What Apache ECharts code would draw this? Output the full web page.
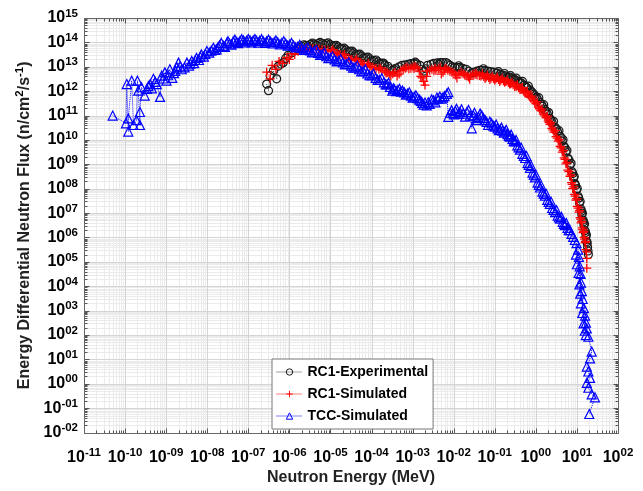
<!DOCTYPE html>
<html>
<head>
<meta charset="utf-8">
<script src="https://cdn.jsdelivr.net/npm/echarts@6/dist/echarts.min.js"></script>
<style>
  html, body { margin: 0; background: #fff; }
  #chart { width: 643px; height: 491px; }
</style>
</head>
<body>
<div id="chart"></div>
<script>
// axis ranges (decades)
const X_MIN = 1e-11, X_MAX = 1e2;
const Y_MIN = 1e-2, Y_MAX = 1e15;

const seriesNames = ['RC1-Experimental', 'RC1-Simulated', 'TCC-Simulated'];

// [energy MeV, flux]
const rc1Experimental = [
  [2.8e-7, 1.95e12], [3.1e-7, 1.05e12], [3.4e-7, 4.3e12], [4.1e-7, 6.8e12], [4.9e-7, 3.2e12], [5.4e-7, 1.07e13], [6.2e-7, 1.3e13], [7.1e-7, 1.48e13], [8.1e-7, 2.2e13], [9.3e-7, 2.95e13],
  [1.15e-6, 3.8e13], [1.38e-6, 4.7e13], [1.66e-6, 5.6e13], [2.0e-6, 6.8e13], [2.25e-6, 8.0e13], [2.5e-6, 7.6e13], [2.8e-6, 7.0e13], [3.2e-6, 8.1e13], [3.6e-6, 9.3e13], [4.0e-6, 8.5e13],
  [4.5e-6, 7.8e13], [5.0e-6, 8.9e13], [5.6e-6, 1.0e14], [6.3e-6, 8.9e13], [7.0e-6, 8.0e13], [7.8e-6, 8.9e13], [8.8e-6, 9.5e13], [9.8e-6, 8.1e13], [1.1e-5, 7.2e13], [1.23e-5, 7.4e13],
  [1.38e-5, 7.6e13], [1.55e-5, 6.5e13], [1.72e-5, 5.6e13], [1.9e-5, 5.6e13], [2.15e-5, 5.8e13], [2.4e-5, 4.9e13], [2.7e-5, 4.2e13], [3.0e-5, 4.3e13], [3.35e-5, 4.4e13], [3.7e-5, 3.7e13],
  [4.2e-5, 3.2e13], [4.7e-5, 3.2e13], [5.2e-5, 3.3e13], [5.8e-5, 2.75e13], [6.5e-5, 2.35e13], [7.2e-5, 2.4e13], [8.1e-5, 2.5e13], [9.1e-5, 2.1e13], [1.02e-4, 1.8e13], [1.15e-4, 1.82e13],
  [1.29e-4, 1.9e13], [1.45e-4, 1.58e13], [1.6e-4, 1.35e13], [1.78e-4, 1.38e13], [1.95e-4, 1.42e13], [2.1e-4, 1.2e13], [2.5e-4, 1.05e13], [2.8e-4, 8.3e12], [3.2e-4, 7.2e12], [3.5e-4, 7.9e12],
  [3.9e-4, 8.7e12], [4.7e-4, 1.0e13], [5.5e-4, 1.15e13], [6.6e-4, 1.2e13], [7.8e-4, 1.26e13], [9.1e-4, 1.35e13], [1.07e-3, 1.38e13], [1.16e-3, 1.55e13], [1.26e-3, 1.32e13], [1.51e-3, 1.15e13],
  [1.7e-3, 7.9e12], [1.9e-3, 6.6e12], [2.1e-3, 8.3e12], [2.3e-3, 1.15e13], [2.8e-3, 1.26e13], [3.3e-3, 1.38e13], [4.0e-3, 1.45e13], [4.35e-3, 1.25e13], [4.7e-3, 1.5e13], [5.5e-3, 1.48e13],
  [6.5e-3, 1.5e13], [7.2e-3, 1.32e13], [8.1e-3, 1.15e13], [9.3e-3, 1.0e13], [1.07e-2, 9.5e12], [1.23e-2, 9.5e12], [1.32e-2, 1.1e13], [1.41e-2, 9.5e12], [1.66e-2, 8.7e12], [2.0e-2, 7.9e12],
  [2.3e-2, 6.6e12], [2.75e-2, 5.5e12], [3.2e-2, 6.0e12], [3.7e-2, 6.6e12], [4.3e-2, 7.1e12], [4.9e-2, 7.2e12], [5.3e-2, 8.3e12], [5.8e-2, 6.9e12], [6.8e-2, 6.6e12], [7.9e-2, 6.3e12],
  [9.5e-2, 6.0e12], [0.112, 5.5e12], [0.123, 6.3e12], [0.135, 5.0e12], [0.146, 4.4e12], [0.158, 4.6e12], [0.172, 5.3e12], [0.186, 4.2e12], [0.205, 3.7e12], [0.224, 3.8e12],
  [0.243, 4.3e12], [0.263, 3.5e12], [0.285, 3.1e12], [0.31, 3.0e12], [0.335, 3.4e12], [0.363, 2.6e12], [0.4, 2.3e12], [0.437, 2.2e12], [0.475, 2.5e12], [0.513, 1.78e12],
  [0.555, 1.55e12], [0.6, 1.41e12], [0.66, 1.6e12], [0.72, 1.12e12], [0.78, 9.5e11], [0.83, 8.5e11], [0.89, 7.5e11], [0.95, 6.5e11], [1.02, 5.6e11], [1.1, 4.7e11],
  [1.18, 5.4e11], [1.26, 3.4e11], [1.35, 2.9e11], [1.45, 2.4e11], [1.55, 2.8e11], [1.66, 1.74e11], [1.78, 1.5e11], [1.9, 1.15e11], [2.05, 1.32e11], [2.2, 7.6e10],
  [2.35, 6.5e10], [2.5, 5.0e10], [2.7, 5.8e10], [2.95, 3.3e10], [3.15, 2.8e10], [3.4, 2.1e10], [3.65, 2.4e10], [3.9, 1.41e10], [4.15, 1.2e10], [4.4, 8.9e9],
  [4.6, 1.02e10], [4.8, 5.6e9], [5.1, 4.8e9], [5.4, 3.2e9], [5.7, 3.7e9], [6.0, 1.82e9], [6.4, 1.55e9], [6.8, 9.5e8], [7.2, 1.1e9], [7.6, 5.0e8],
  [7.9, 4.2e8], [8.3, 2.8e8], [8.6, 3.2e8], [8.9, 1.62e8], [9.3, 1.38e8], [9.8, 8.9e7], [10.2, 1.02e8], [10.7, 4.9e7], [11.1, 4.1e7], [11.5, 2.6e7],
  [12.0, 3.0e7], [12.6, 1.45e7], [12.9, 1.2e7], [13.2, 8.7e6], [13.6, 1.0e7], [14.1, 5.2e6], [14.4, 4.4e6], [14.8, 3.2e6], [15.3, 3.7e6], [15.8, 1.9e6],
  [16.2, 1.6e6], [16.6, 1.12e6], [17.0, 1.3e6], [17.4, 6.8e5], [17.8, 5.8e5], [18.2, 4.0e5], [18.6, 2.8e5], [19.0, 2.0e5]
];

const rc1Simulated = [
  [2.8e-7, 6.0e12], [3.4e-7, 3.2e12], [3.8e-7, 1.15e13], [4.7e-7, 7.9e12], [5.6e-7, 1.66e13], [6.9e-7, 1.38e13], [8.7e-7, 2.4e13], [1.0e-6, 2.0e13], [1.15e-6, 3.5e13], [1.35e-6, 3.2e13],
  [1.62e-6, 4.3e13], [1.95e-6, 4.6e13], [2.3e-6, 5.1e13], [2.7e-6, 5.0e13], [3.2e-6, 5.6e13], [3.7e-6, 5.5e13], [4.5e-6, 5.6e13], [5.2e-6, 5.4e13], [6.2e-6, 5.1e13], [7.4e-6, 4.9e13],
  [8.7e-6, 4.7e13], [1.05e-5, 4.3e13], [1.14e-5, 5.0e13], [1.23e-5, 3.9e13], [1.45e-5, 3.5e13], [1.57e-5, 3.0e13], [1.7e-5, 3.2e13], [2.0e-5, 2.8e13], [2.2e-5, 3.2e13], [2.4e-5, 2.4e13],
  [2.8e-5, 2.2e13], [3.05e-5, 1.85e13], [3.3e-5, 2.0e13], [4.0e-5, 1.82e13], [4.35e-5, 2.1e13], [4.7e-5, 1.66e13], [5.5e-5, 1.45e13], [6.0e-5, 1.25e13], [6.6e-5, 1.26e13], [7.8e-5, 1.15e13],
  [8.4e-5, 1.32e13], [9.1e-5, 1.05e13], [1.07e-4, 9.5e12], [1.18e-4, 8.1e12], [1.29e-4, 8.7e12], [1.51e-4, 7.9e12], [1.64e-4, 9.0e12], [1.78e-4, 7.2e12], [2.1e-4, 6.6e12], [2.25e-4, 5.6e12],
  [2.4e-4, 6.0e12], [2.7e-4, 5.0e12], [2.95e-4, 4.2e12], [3.3e-4, 5.2e12], [3.7e-4, 6.0e12], [4.2e-4, 4.2e12], [4.7e-4, 5.0e12], [5.2e-4, 6.9e12], [5.9e-4, 7.9e12], [6.6e-4, 8.7e12],
  [7.2e-4, 9.5e12], [8.1e-4, 8.3e12], [9.1e-4, 8.7e12], [1.02e-3, 1.0e13], [1.08e-3, 8.5e12], [1.15e-3, 1.05e13], [1.29e-3, 9.1e12], [1.45e-3, 6.6e12], [1.58e-3, 4.0e12], [1.7e-3, 3.5e12],
  [1.86e-3, 2.5e12], [2.0e-3, 1.78e12], [2.2e-3, 4.0e12], [2.3e-3, 6.6e12], [2.6e-3, 7.2e12], [2.95e-3, 7.9e12], [3.3e-3, 6.9e12], [3.5e-3, 8.7e12], [3.7e-3, 7.2e12], [4.2e-3, 8.3e12],
  [4.7e-3, 9.5e12], [5.0e-3, 5.0e12], [5.5e-3, 6.0e12], [6.0e-3, 7.9e12], [6.5e-3, 8.7e12], [7.2e-3, 7.2e12], [8.1e-3, 6.6e12], [9.1e-3, 6.0e12], [1.02e-2, 5.5e12], [1.12e-2, 4.6e12],
  [1.2e-2, 3.5e12], [1.35e-2, 5.0e12], [1.51e-2, 6.0e12], [1.7e-2, 5.2e12], [1.86e-2, 4.6e12], [2.1e-2, 4.2e12], [2.3e-2, 3.8e12], [2.45e-2, 3.1e12], [2.6e-2, 4.4e12], [2.95e-2, 5.0e12],
  [3.3e-2, 4.8e12], [3.5e-2, 5.6e12], [3.7e-2, 4.6e12], [4.2e-2, 4.4e12], [4.6e-2, 4.2e12], [5.0e-2, 5.0e12], [5.4e-2, 4.0e12], [5.8e-2, 3.3e12], [6.2e-2, 3.8e12], [6.6e-2, 4.5e12],
  [7.1e-2, 3.6e12], [7.6e-2, 3.0e12], [8.1e-2, 3.5e12], [8.7e-2, 4.2e12], [9.3e-2, 3.3e12], [0.1, 2.8e12], [0.107, 3.2e12], [0.115, 3.8e12], [0.123, 3.0e12], [0.132, 2.5e12],
  [0.141, 2.9e12], [0.151, 3.4e12], [0.162, 2.7e12], [0.174, 2.3e12], [0.186, 2.5e12], [0.2, 2.95e12], [0.214, 2.3e12], [0.23, 1.95e12], [0.245, 2.0e12], [0.262, 2.35e12],
  [0.28, 1.82e12], [0.305, 1.55e12], [0.33, 1.58e12], [0.355, 1.85e12], [0.38, 1.38e12], [0.41, 1.17e12], [0.437, 1.2e12], [0.47, 1.4e12], [0.5, 1.02e12], [0.54, 8.7e11],
  [0.575, 8.5e11], [0.62, 1.0e12], [0.66, 6.9e11], [0.71, 5.9e11], [0.76, 5.4e11], [0.81, 6.3e11], [0.87, 4.2e11], [0.93, 3.6e11], [1.0, 3.1e11], [1.07, 3.6e11],
  [1.15, 2.2e11], [1.23, 1.9e11], [1.32, 1.58e11], [1.41, 1.85e11], [1.51, 1.15e11], [1.65, 9.8e10], [1.78, 8.3e10], [1.9, 9.5e10], [2.0, 6.0e10], [2.1, 5.2e10],
  [2.2, 4.4e10], [2.32, 5.0e10], [2.45, 3.0e10], [2.6, 2.6e10], [2.75, 2.1e10], [2.92, 2.4e10], [3.1, 1.38e10], [3.3, 1.2e10], [3.5, 8.9e9], [3.7, 1.02e10],
  [3.9, 5.4e9], [4.15, 4.7e9], [4.4, 3.2e9], [4.65, 3.7e9], [4.9, 1.86e9], [5.15, 1.6e9], [5.4, 1.05e9], [5.7, 1.2e9], [6.0, 5.8e8], [6.4, 5.0e8],
  [6.8, 3.2e8], [7.1, 3.7e8], [7.4, 1.78e8], [7.65, 1.5e8], [7.9, 1.02e8], [8.3, 1.18e8], [8.7, 5.9e7], [9.1, 5.0e7], [9.5, 3.4e7], [9.85, 3.9e7],
  [10.2, 1.9e7], [10.7, 1.6e7], [11.2, 1.1e7], [11.6, 1.25e7], [12.0, 6.6e6], [12.3, 5.7e6], [12.6, 4.0e6], [13.0, 4.6e6], [13.5, 2.5e6], [13.8, 2.1e6],
  [14.1, 1.58e6], [14.6, 1.8e6], [15.1, 1.0e6], [15.4, 8.5e5], [15.8, 6.2e5], [16.2, 7.0e5], [16.6, 3.2e5], [17.0, 2.6e5], [17.4, 1.4e5], [17.4, 5.5e4]
];

const tccSimulated = [
  [5.0e-11, 1.0e11], [1.05e-10, 4.8e10], [1.1e-10, 1.95e12], [1.2e-10, 2.2e10], [1.2e-10, 7.6e10], [1.45e-10, 2.7e12], [1.6e-10, 4.1e10], [1.9e-10, 6.5e10], [2.0e-10, 2.7e12], [2.1e-10, 1.05e12],
  [2.3e-10, 4.1e10], [2.3e-10, 1.4e11], [2.5e-10, 1.45e12], [3.0e-10, 6.6e11], [3.4e-10, 1.23e12], [3.7e-10, 1.6e12], [4.1e-10, 1.95e12], [4.5e-10, 1.3e12], [4.9e-10, 3.2e12], [5.4e-10, 2.4e12],
  [5.9e-10, 1.95e12], [7.1e-10, 5.8e11], [7.8e-10, 4.3e12], [8.5e-10, 3.3e12], [9.3e-10, 5.9e12], [1.02e-9, 2.7e12], [1.12e-9, 4.5e12], [1.23e-9, 7.9e12], [1.41e-9, 3.5e12], [1.55e-9, 5.5e12],
  [1.66e-9, 6.8e12], [1.82e-9, 9.5e12], [2.0e-9, 1.48e13], [2.2e-9, 1.05e13], [2.4e-9, 7.9e12], [2.8e-9, 9.5e12], [3.2e-9, 1.48e13], [3.6e-9, 1.12e13], [3.9e-9, 1.35e13], [4.2e-9, 1.74e13],
  [4.8e-9, 1.41e13], [5.1e-9, 1.9e13], [5.5e-9, 2.3e13], [6.3e-9, 1.9e13], [6.8e-9, 2.6e13], [7.2e-9, 3.2e13], [8.3e-9, 2.6e13], [9.0e-9, 3.4e13], [9.8e-9, 4.4e13], [1.12e-8, 3.8e13],
  [1.26e-8, 4.6e13], [1.41e-8, 6.0e13], [1.55e-8, 4.9e13], [1.7e-8, 5.2e13], [1.85e-8, 6.5e13], [2.0e-8, 7.6e13], [2.2e-8, 9.5e13], [2.5e-8, 7.2e13], [2.7e-8, 6.6e13], [3.0e-8, 9.5e13],
  [3.2e-8, 1.12e14], [3.5e-8, 8.9e13], [3.9e-8, 8.1e13], [4.3e-8, 1.1e14], [4.7e-8, 1.3e14], [5.2e-8, 1.05e14], [5.7e-8, 9.3e13], [6.3e-8, 1.15e14], [6.9e-8, 1.35e14], [7.6e-8, 1.2e14],
  [8.3e-8, 1.0e14], [9.1e-8, 1.17e14], [1.0e-7, 1.38e14], [1.1e-7, 1.2e14], [1.2e-7, 1.0e14], [1.32e-7, 1.2e14], [1.45e-7, 1.38e14], [1.58e-7, 1.17e14], [1.74e-7, 9.8e13], [1.9e-7, 1.15e14],
  [2.1e-7, 1.35e14], [2.3e-7, 1.12e14], [2.55e-7, 9.5e13], [2.8e-7, 1.1e14], [3.1e-7, 1.3e14], [3.5e-7, 1.07e14], [3.9e-7, 9.0e13], [4.3e-7, 1.02e14], [4.7e-7, 1.2e14], [5.2e-7, 1.0e14],
  [5.9e-7, 8.3e13], [6.6e-7, 9.5e13], [7.3e-7, 1.12e14], [8.1e-7, 8.9e13], [9.1e-7, 7.4e13], [1.02e-6, 8.1e13], [1.13e-6, 9.5e13], [1.26e-6, 7.4e13], [1.41e-6, 6.2e13], [1.58e-6, 6.6e13],
  [1.78e-6, 7.9e13], [2.0e-6, 5.9e13], [2.24e-6, 4.9e13], [2.5e-6, 5.2e13], [2.8e-6, 6.2e13], [3.2e-6, 4.7e13], [3.55e-6, 3.9e13], [4.0e-6, 4.2e13], [4.5e-6, 5.0e13], [5.0e-6, 3.7e13],
  [5.6e-6, 3.1e13], [6.3e-6, 3.2e13], [7.1e-6, 3.8e13], [7.9e-6, 2.7e13], [8.9e-6, 2.25e13], [1.0e-5, 2.3e13], [1.12e-5, 2.7e13], [1.26e-5, 2.0e13], [1.41e-5, 1.66e13], [1.58e-5, 1.74e13],
  [1.78e-5, 2.05e13], [2.0e-5, 1.5e13], [2.24e-5, 1.25e13], [2.5e-5, 1.3e13], [2.8e-5, 1.55e13], [3.2e-5, 1.12e13], [3.55e-5, 9.3e12], [4.0e-5, 9.5e12], [4.5e-5, 1.12e13], [5.0e-5, 7.9e12],
  [5.6e-5, 6.5e12], [6.3e-5, 6.6e12], [7.1e-5, 7.8e12], [7.9e-5, 5.4e12], [8.9e-5, 4.5e12], [1.0e-4, 4.4e12], [1.12e-4, 5.2e12], [1.26e-4, 3.5e12], [1.41e-4, 2.9e12], [1.58e-4, 2.9e12],
  [1.78e-4, 3.4e12], [2.0e-4, 2.3e12], [2.2e-4, 1.9e12], [2.4e-4, 1.9e12], [2.6e-4, 2.2e12], [2.8e-4, 1.5e12], [3.2e-4, 1.05e12], [3.4e-4, 1.3e12], [3.6e-4, 1.2e12], [4.0e-4, 1.0e12],
  [4.4e-4, 1.12e12], [4.8e-4, 1.25e12], [5.2e-4, 9.5e11], [5.7e-4, 1.05e12], [6.3e-4, 8.9e11], [6.9e-4, 7.2e11], [7.6e-4, 7.9e11], [8.3e-4, 9.0e11], [9.1e-4, 6.6e11], [1.0e-3, 5.4e11],
  [1.1e-3, 6.0e11], [1.2e-3, 6.8e11], [1.32e-3, 5.2e11], [1.45e-3, 4.5e11], [1.58e-3, 4.0e11], [1.72e-3, 3.3e11], [1.86e-3, 2.8e11], [2.0e-3, 3.4e11], [2.2e-3, 2.6e11], [2.4e-3, 3.5e11],
  [2.6e-3, 3.0e11], [2.9e-3, 4.6e11], [3.2e-3, 4.2e11], [3.6e-3, 3.5e11], [3.9e-3, 5.5e11], [4.2e-3, 4.9e11], [4.6e-3, 6.0e11], [5.1e-3, 4.9e11], [5.5e-3, 5.6e11], [6.0e-3, 6.3e11],
  [6.8e-3, 7.8e11], [7.4e-3, 9.1e11], [7.4e-3, 8.9e10], [8.2e-3, 1.3e11], [8.9e-3, 1.66e11], [9.5e-3, 1.25e11], [1.02e-2, 1.12e11], [1.1e-2, 1.55e11], [1.17e-2, 1.9e11], [1.3e-2, 1.2e11],
  [1.41e-2, 1.4e11], [1.55e-2, 1.8e11], [1.7e-2, 1.2e11], [1.9e-2, 9.0e10], [2.1e-2, 1.4e11], [2.3e-2, 1.7e11], [2.5e-2, 1.0e11], [2.75e-2, 3.0e10], [3.0e-2, 1.02e11], [3.2e-2, 1.3e11],
  [3.5e-2, 7.9e10], [3.7e-2, 6.5e10], [4.0e-2, 8.9e10], [4.4e-2, 1.2e11], [4.8e-2, 1.02e11], [5.3e-2, 7.8e10], [5.8e-2, 6.5e10], [6.3e-2, 5.5e10], [6.9e-2, 4.1e10], [7.6e-2, 5.6e10],
  [8.3e-2, 4.8e10], [9.1e-2, 3.9e10], [0.1, 3.5e10], [0.108, 4.3e10], [0.117, 3.0e10], [0.126, 2.5e10], [0.135, 2.6e10], [0.145, 3.2e10], [0.155, 2.4e10], [0.166, 2.0e10],
  [0.178, 2.2e10], [0.19, 2.6e10], [0.204, 1.74e10], [0.22, 1.45e10], [0.234, 1.38e10], [0.25, 1.65e10], [0.27, 1.1e10], [0.29, 9.0e9], [0.31, 8.7e9], [0.33, 1.0e10],
  [0.355, 6.0e9], [0.38, 5.0e9], [0.41, 4.0e9], [0.44, 4.8e9], [0.47, 2.7e9], [0.51, 2.2e9], [0.55, 1.82e9], [0.59, 2.2e9], [0.63, 1.15e9], [0.67, 9.5e8],
  [0.72, 7.2e8], [0.77, 8.7e8], [0.83, 4.6e8], [0.89, 3.8e8], [0.95, 2.9e8], [1.02, 3.5e8], [1.1, 1.78e8], [1.18, 1.45e8], [1.26, 1.12e8], [1.35, 1.35e8],
  [1.45, 7.6e7], [1.55, 6.3e7], [1.66, 5.2e7], [1.78, 6.2e7], [1.9, 3.5e7], [2.05, 2.9e7], [2.2, 2.4e7], [2.35, 2.9e7], [2.5, 1.62e7], [2.7, 1.35e7],
  [2.95, 1.1e7], [3.2, 1.3e7], [3.4, 7.9e6], [3.65, 6.6e6], [3.9, 5.9e6], [4.2, 7.0e6], [4.5, 4.4e6], [4.8, 3.6e6], [5.1, 3.2e6], [5.5, 3.9e6],
  [5.9, 2.5e6], [6.3, 2.0e6], [6.8, 2.0e6], [7.4, 1.4e6], [8.1, 1.07e6], [8.9, 7.9e5], [9.5, 2.0e5], [9.8, 5.9e5], [10.0, 8.0e4], [10.7, 3.2e5],
  [11.0, 3.5e4], [11.2, 1.6e5], [11.5, 1.2e4], [11.7, 6.6e4], [12.0, 5.0e3], [12.3, 3.2e4], [12.5, 2.0e3], [12.6, 1.4e4], [13.2, 6.3e3], [13.5, 800],
  [13.8, 3.0e3], [14.5, 300], [14.8, 1.26e3], [15.5, 150], [15.8, 630], [16.5, 100], [16.6, 320], [17.4, 186], [19.0, 85], [22.9, 21],
  [20.9, 11], [17.4, 5.1], [19.0, 3.2], [20.9, 1.74], [17.4, 1.1], [19.0, 0.69], [22.9, 0.37], [27.5, 0.28], [20.0, 0.058]
];

const FONT = '"Liberation Sans", Arial, Helvetica, sans-serif';
const PLUS = 'path://M0,4.3H10V5.7H0Z M4.3,0H5.7V10H4.3Z';

// "10^-05" style exponent
function expText(v) {
  const e = Math.round(Math.log10(v));
  const a = Math.abs(e);
  return (e < 0 ? '-' : '') + (a < 10 ? '0' + a : '' + a);
}

const supRich = {
  sup: { fontFamily: FONT, fontWeight: 'bold', fontSize: 11.5, color: '#000', padding: [0, 0, 9, 0] }
};

// grid lines + ticks like a matlab loglog box
function renderFrame(params, api) {
  const kids = [];
  const seg = (x1, y1, x2, y2, color) => kids.push({
    type: 'line',
    shape: { x1: x1, y1: y1, x2: x2, y2: y2 },
    style: { stroke: color, lineWidth: 1 }
  });
  const px = (v) => Math.round(api.coord([v, Y_MIN])[0]) + 0.5;
  const py = (v) => Math.round(api.coord([X_MIN, v])[1]) + 0.5;
  const L = px(X_MIN), R = px(X_MAX), T = py(Y_MAX), B = py(Y_MIN);
  const x0 = Math.round(Math.log10(X_MIN)), x1 = Math.round(Math.log10(X_MAX));
  const y0 = Math.round(Math.log10(Y_MIN)), y1 = Math.round(Math.log10(Y_MAX));

  // minor grid
  for (let d = x0; d < x1; d++) {
    for (let m = 2; m < 10; m++) {
      const x = px(m * Math.pow(10, d));
      seg(x, T, x, B, '#ebebeb');
    }
  }
  for (let d = y0; d < y1; d++) {
    for (let m = 2; m < 10; m++) {
      const y = py(m * Math.pow(10, d));
      seg(L, y, R, y, '#ebebeb');
    }
  }
  // major grid
  for (let d = x0 + 1; d < x1; d++) { const x = px(Math.pow(10, d)); seg(x, T, x, B, '#d4d4d4'); }
  for (let d = y0 + 1; d < y1; d++) { const y = py(Math.pow(10, d)); seg(L, y, R, y, '#d4d4d4'); }

  // ticks on all four sides
  const tick = '#555';
  for (let d = x0; d <= x1; d++) {
    for (let m = 1; m < 10; m++) {
      if (d === x1 && m > 1) break;
      const x = px(m * Math.pow(10, d));
      const len = m === 1 ? 5 : 3;
      seg(x, B, x, B - len, tick);
      seg(x, T, x, T + len, tick);
    }
  }
  for (let d = y0; d <= y1; d++) {
    for (let m = 1; m < 10; m++) {
      if (d === y1 && m > 1) break;
      const y = py(m * Math.pow(10, d));
      const len = m === 1 ? 5 : 3;
      seg(L, y, L + len, y, tick);
      seg(R, y, R - len, y, tick);
    }
  }
  // box
  kids.push({
    type: 'rect',
    shape: { x: L, y: T, width: R - L, height: B - T },
    style: { fill: 'none', stroke: '#666', lineWidth: 1 }
  });
  return { type: 'group', children: kids };
}

const tickLabel = {
  fontFamily: FONT, fontWeight: 'bold', fontSize: 16, color: '#000',
  formatter: (v) => '10{sup|' + expText(v) + '}',
  rich: supRich
};

const chart = echarts.init(document.getElementById('chart'));

const option = {
  animation: false,
  backgroundColor: '#fff',
  grid: { left: 84, right: 25, top: 18, bottom: 52 },
  xAxis: {
    type: 'log',
    logBase: 10,
    min: X_MIN,
    max: X_MAX,
    interval: 1,
    name: 'Neutron Energy (MeV)',
    nameLocation: 'middle',
    nameGap: 33,
    nameTextStyle: { fontFamily: FONT, fontWeight: 'bold', fontSize: 16, color: '#222' },
    axisLine: { show: false },
    axisTick: { show: false },
    splitLine: { show: false },
    axisLabel: Object.assign({ margin: 14, hideOverlap: false }, tickLabel)
  },
  yAxis: {
    type: 'log',
    logBase: 10,
    min: Y_MIN,
    max: Y_MAX,
    interval: 1,
    name: 'Energy Differential Neutron Flux (n/cm{sup|2}/s{sup|-1})',
    nameLocation: 'middle',
    nameGap: 44,
    nameTextStyle: {
      fontFamily: FONT, fontWeight: 'bold', fontSize: 16, color: '#222',
      rich: supRich
    },
    axisLine: { show: false },
    axisTick: { show: false },
    splitLine: { show: false },
    axisLabel: Object.assign({ margin: 6, hideOverlap: false }, tickLabel)
  },
  legend: {
    data: seriesNames,
    orient: 'vertical',
    left: 272,
    top: 359,
    backgroundColor: '#fff',
    borderColor: '#777',
    borderWidth: 1,
    borderRadius: 0,
    padding: [5, 5, 5, 4],
    itemGap: 6,
    itemWidth: 26,
    itemHeight: 8,
    itemStyle: { borderWidth: 1 },
    lineStyle: { width: 1, type: 'dotted' },
    textStyle: { fontFamily: FONT, fontWeight: 'bold', fontSize: 14, color: '#000', lineHeight: 16 }
  },
  series: [
    {
      type: 'custom',
      name: 'frame',
      coordinateSystem: 'cartesian2d',
      data: [[1, 1]],
      renderItem: renderFrame,
      silent: true,
      clip: false,
      z: 1
    },
    {
      name: seriesNames[0],
      type: 'line',
      data: rc1Experimental,
      symbol: 'circle',
      symbolSize: 8,
      showAllSymbol: true,
      itemStyle: { color: 'rgba(0,0,0,0)', borderColor: '#1a1a1a', borderWidth: 1.2 },
      lineStyle: { color: '#444', width: 1, type: 'dotted' },
      z: 2
    },
    {
      name: seriesNames[1],
      type: 'line',
      data: rc1Simulated,
      symbol: PLUS,
      symbolSize: 9,
      showAllSymbol: true,
      itemStyle: { color: '#ff0000' },
      lineStyle: { color: '#ff0000', width: 1, type: 'dotted' },
      z: 3
    },
    {
      name: seriesNames[2],
      type: 'line',
      data: tccSimulated,
      symbol: 'triangle',
      symbolSize: 9,
      showAllSymbol: true,
      itemStyle: { color: 'rgba(0,0,0,0)', borderColor: '#0000ff', borderWidth: 1.2 },
      lineStyle: { color: '#0000ff', width: 1, type: 'dotted' },
      z: 4
    }
  ]
};

chart.setOption(option);
</script>
</body>
</html>
